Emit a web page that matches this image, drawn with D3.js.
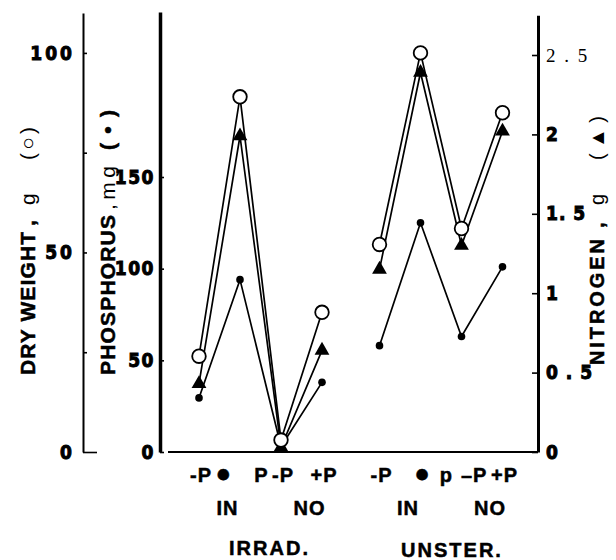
<!DOCTYPE html>
<html>
<head>
<meta charset="utf-8">
<script src="https://cdn.jsdelivr.net/npm/d3@7"></script>
<style>
  body { margin: 0; background: #fff; }
  svg { display: block; }
</style>
</head>
<body>
<svg id="chart" width="616" height="560"></svg>
<script>
// ---- data ----
const groups = ["IRRAD.", "UNSTER."];
const treatments = ["IN -P", "IN +P", "NO -P", "NO +P"];
const conditionLabels = [[["-P"], ["●", "P"], ["-P"], ["+P"]], [["-P"], ["●"], ["p", "–P"], ["+P"]]];
const pairLabels = ["IN", "NO"];
// per group, per treatment
const dryWeight = [[24, 89, 3, 35], [52, 100, 56, 85]];               // g  (open circles)
const phosphorus = [[29.5, 94, 3, 38], [58, 125, 63, 101]];            // mg (dots)
const nitrogen = [[0.43, 1.99, 0.03, 0.64], [1.15, 2.39, 1.30, 2.02]]; // g  (triangles)
const dwTicks = [0, 25, 50, 75, 100];
const pTicks = [0, 50, 100, 150];
const nTicks = [0, 0.5, 1, 1.5, 2, 2.5];
const nTickLabels = ["0", "0 . 5", "1", "1. 5", "2", "2 . 5"];
const dwTitle = ["DRY WEIGHT", ",", "g", "(○)"];
const pTitle = ["PHOSPHORUS", ",mg", "(•)"];
const nTitle = ["NITROGEN", ",", "g", "(▲)"];

// ---- layout ----
const svg = d3.select("#chart");
const baseY = 452;
const xDW = 83, xP = 160, xN = 538;

const yDW = d3.scaleLinear().domain([0, 110]).range([baseY, 13]);
const yP = d3.scaleLinear().domain([0, 240]).range([baseY, 12]);
const yN = d3.scaleLinear().domain([0, 2.75]).range([baseY, 15.3]);
const xGroup = d3.scalePoint().domain(groups).range([260.5, 441]);
const xInner = d3.scalePoint().domain(treatments).range([-61.5, 61.5]);
const xPos = (g, i) => xGroup(groups[g]) + xInner(treatments[i]);

const numFont = "'Liberation Sans Narrow','DejaVu Sans Condensed',sans-serif";
const txtFont = "'Liberation Sans',Arial,Helvetica,sans-serif";

// ---- axes ----
function styleAxis(g, width, fs, ls) {
  g.select(".domain").attr("stroke", "#000").attr("stroke-width", width);
  g.selectAll(".tick line").attr("stroke", "#000").attr("stroke-width", 1.6);
  g.selectAll(".tick text")
    .attr("font-family", numFont).attr("font-weight", "bold")
    .attr("font-size", fs).attr("letter-spacing", ls).attr("fill", "#000")
    .attr("stroke", "#000").attr("stroke-width", 0.9);
}

const gDW = svg.append("g").attr("transform", `translate(${xDW},0)`)
  .call(d3.axisLeft(yDW).tickValues(dwTicks).tickSizeInner(-4).tickSizeOuter(0)
    .tickPadding(8).tickFormat(d => d % 50 === 0 ? d : ""));
styleAxis(gDW, 2, 19, 3);
gDW.selectAll(".tick").filter(d => d === 0).select("line").attr("x2", 14);

const gP = svg.append("g").attr("transform", `translate(${xP},0)`)
  .call(d3.axisLeft(yP).tickValues(pTicks).tickSizeInner(-4).tickSizeOuter(0)
    .tickPadding(5));
styleAxis(gP, 3.5, 19, 1.5);

const gN = svg.append("g").attr("transform", `translate(${xN},0)`)
  .call(d3.axisRight(yN).tickValues(nTicks).tickSizeInner(-6).tickSizeOuter(0)
    .tickPadding(8).tickFormat((d, i) => nTickLabels[i]));
styleAxis(gN, 3, 19, 1);
gN.selectAll(".tick text").filter(d => d === 2.5)
  .attr("font-family", "'Liberation Serif','DejaVu Serif',serif")
  .attr("font-weight", "normal").attr("stroke", "none")
  .attr("font-size", 19).attr("letter-spacing", 2);

// baseline
svg.append("line")
  .attr("x1", xP + 8).attr("x2", xN).attr("y1", yP(0)).attr("y2", yP(0))
  .attr("stroke", "#000").attr("stroke-width", 2);

// ---- axis titles (rotated, reading upward); each part: [start y, length, bold] ----
function title(x, fs, parts, spec) {
  parts.forEach((p, i) => {
    const [y0, len, bold] = spec[i];
    svg.append("text")
      .attr("transform", `translate(${x},${y0}) rotate(-90)`)
      .attr("font-family", txtFont).attr("font-size", fs)
      .attr("font-weight", bold ? "bold" : "normal")
      .attr("stroke", bold ? "#000" : "none").attr("stroke-width", 0.5)
      .attr("textLength", len).attr("lengthAdjust", "spacing")
      .attr("fill", "#000").text(p);
  });
}
title(35, 21, dwTitle, [[375, 143, true], [226, 4, true], [205, 12, false], [160, 33, false]]);
title(115, 21, pTitle, [[375, 160, true], [210, 44, false], [150, 40, true]]);
title(604, 20, nTitle, [[365, 126, true], [228, 4, true], [205, 12, false], [160, 44, false]]);

// ---- data series ----
const line = d3.line().x(d => d.x).y(d => d.y);
const series = [
  {vals: dryWeight, y: yDW},
  {vals: nitrogen, y: yN},
  {vals: phosphorus, y: yP}
];
series.forEach(s => {
  s.pts = s.vals.map((arr, g) => arr.map((v, i) => ({x: xPos(g, i), y: s.y(v)})));
});

const gLines = svg.append("g");
series.forEach(s => {
  s.pts.forEach(pts => {
    gLines.append("path").attr("d", line(pts))
      .attr("fill", "none").attr("stroke", "#000").attr("stroke-width", 1.7);
  });
});

const gMarks = svg.append("g");
const [cirS, triS, dotS] = series;
gMarks.selectAll("circle.dot").data(dotS.pts.flat()).join("circle")
  .attr("class", "dot").attr("cx", d => d.x).attr("cy", d => d.y).attr("r", 3.8)
  .attr("fill", "#000");
gMarks.selectAll("path.tri").data(triS.pts.flat()).join("path")
  .attr("class", "tri")
  .attr("transform", d => `translate(${d.x},${d.y})`)
  .attr("d", d3.symbol(d3.symbolTriangle, 95)).attr("fill", "#000");
gMarks.selectAll("circle.cir").data(cirS.pts.flat()).join("circle")
  .attr("class", "cir").attr("cx", d => d.x).attr("cy", d => d.y).attr("r", 6.8)
  .attr("fill", "#fff").attr("stroke", "#000").attr("stroke-width", 1.8);

// ---- category labels ----
const gLab = svg.append("g").attr("font-family", txtFont).attr("font-weight", "bold")
  .attr("fill", "#000").attr("stroke", "#000").attr("stroke-width", 0.5)
  .attr("text-anchor", "middle");
groups.forEach((grp, g) => {
  treatments.forEach((t, i) => {
    const txt = gLab.append("text").attr("x", xPos(g, i) + 2).attr("y", 482)
      .attr("font-size", 20).attr("letter-spacing", 1);
    conditionLabels[g][i].forEach((part, k) =>
      txt.append("tspan").attr("dx", k ? (part === "P" ? 22 : 8) : 0)
        .attr("font-size", part === "●" ? 26 : null).text(part));
  });
  pairLabels.forEach((p, k) => {
    const cx = (xPos(g, 2 * k) + xPos(g, 2 * k + 1)) / 2 + 8;
    gLab.append("text").attr("x", cx).attr("y", 515)
      .attr("font-size", 20).attr("letter-spacing", 1).text(p);
  });
  gLab.append("text").attr("x", xGroup(grp) + 9 + g * 2).attr("y", 555 + g * 2)
    .attr("font-size", 20).attr("letter-spacing", 2).text(grp);
});
</script>
</body>
</html>
